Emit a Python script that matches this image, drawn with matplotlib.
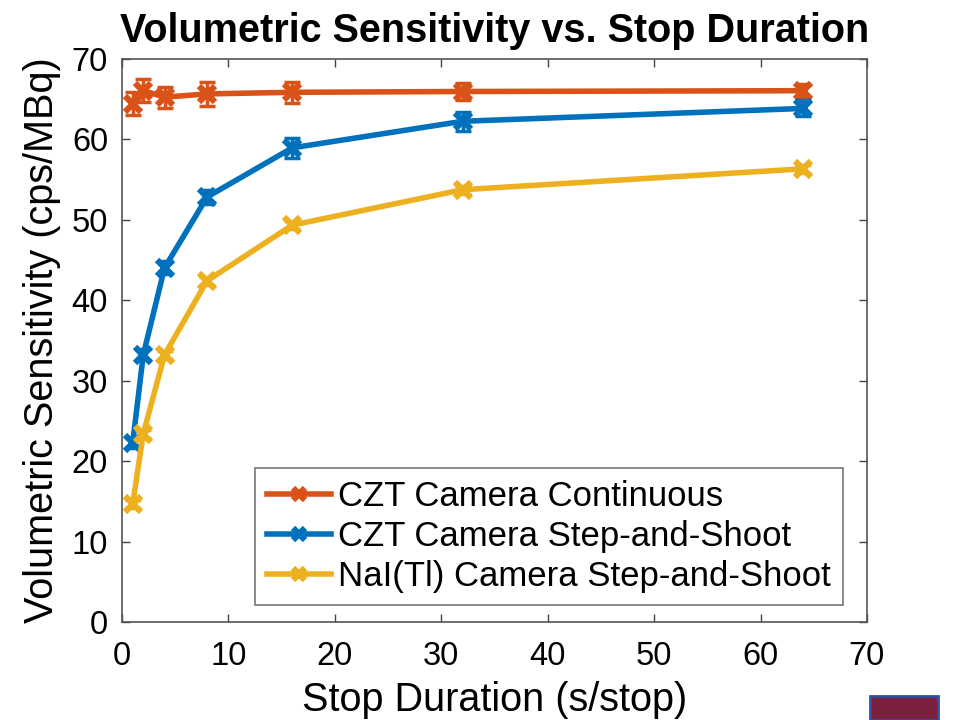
import matplotlib
matplotlib.use("Agg")
import matplotlib.pyplot as plt
from matplotlib.patches import Rectangle

plt.rcParams['font.family'] = ['Liberation Sans', 'DejaVu Sans']

stop_duration = [1, 2, 4, 8, 16, 32, 64]
czt_cont = [64.4, 66.0, 65.2, 65.6, 65.8, 65.9, 66.0]
czt_cont_err = [1.4, 1.4, 1.3, 1.5, 1.3, 1.0, 0.8]
czt_step = [22.2, 33.2, 44.0, 52.8, 58.9, 62.2, 63.8]
czt_step_err = [0.6, 0.7, 0.8, 0.9, 1.2, 1.2, 1.0]
nai_step = [14.6, 23.4, 33.2, 42.4, 49.3, 53.7, 56.3]
nai_step_err = [0.5, 0.5, 0.5, 0.5, 0.5, 0.5, 0.5]

labels = ["CZT Camera Continuous", "CZT Camera Step-and-Shoot",
          "NaI(Tl) Camera Step-and-Shoot"]
colors = ["#D95319", "#0072BD", "#EDB120"]

fig = plt.figure(figsize=(9.58, 7.2), dpi=100)
ax = fig.add_axes([122/958, 1-622/720, (867-122)/958, (622-58.5)/720])

for y, e, c, lab in zip([czt_cont, czt_step, nai_step],
                        [czt_cont_err, czt_step_err, nai_step_err],
                        colors, labels):
    ax.errorbar(stop_duration, y, yerr=e, color=c, linewidth=0,
                elinewidth=2.5, capsize=6, capthick=2.5, fmt='none')
    ax.plot(stop_duration, y, color=c, linewidth=4,
            marker='x', markersize=12, markeredgewidth=4.5, label=lab)

ax.set_xlim(0, 70)
ax.set_ylim(0, 70)
ax.set_xticks(range(0, 71, 10))
ax.set_yticks(range(0, 71, 10))
ax.tick_params(direction='in', length=6, width=1, colors='#444444',
               labelcolor='black', labelsize=23.5, top=True, right=True)
ax.tick_params(axis='x', pad=14)
ax.tick_params(axis='y', pad=10)
for s in ax.spines.values():
    s.set_color('#555555')
    s.set_linewidth(1.2)

ax.set_xlabel("Stop Duration (s/stop)", fontsize=28.5, labelpad=6)
ax.set_ylabel("Volumetric Sensitivity (cps/MBq)", fontsize=28.5, labelpad=8)
ax.set_title("Volumetric Sensitivity vs. Stop Duration", fontsize=28.5,
             fontweight='bold', pad=12)

leg = ax.legend(loc='lower right', bbox_to_anchor=(0.968, 0.030),
                fontsize=25, frameon=True, fancybox=False,
                handlelength=1.85, handletextpad=0.2, borderpad=0.35,
                borderaxespad=0, labelspacing=0.2, markerscale=0.7)
leg.get_frame().set_edgecolor('#555555')
leg.get_frame().set_linewidth(1.2)

fig.patches.append(Rectangle((870/958, 0), 68/958, 24/720,
                             transform=fig.transFigure,
                             facecolor='#7A1F3D', edgecolor='#2F4FA0',
                             linewidth=2))

fig.savefig("out.png", dpi=100)
